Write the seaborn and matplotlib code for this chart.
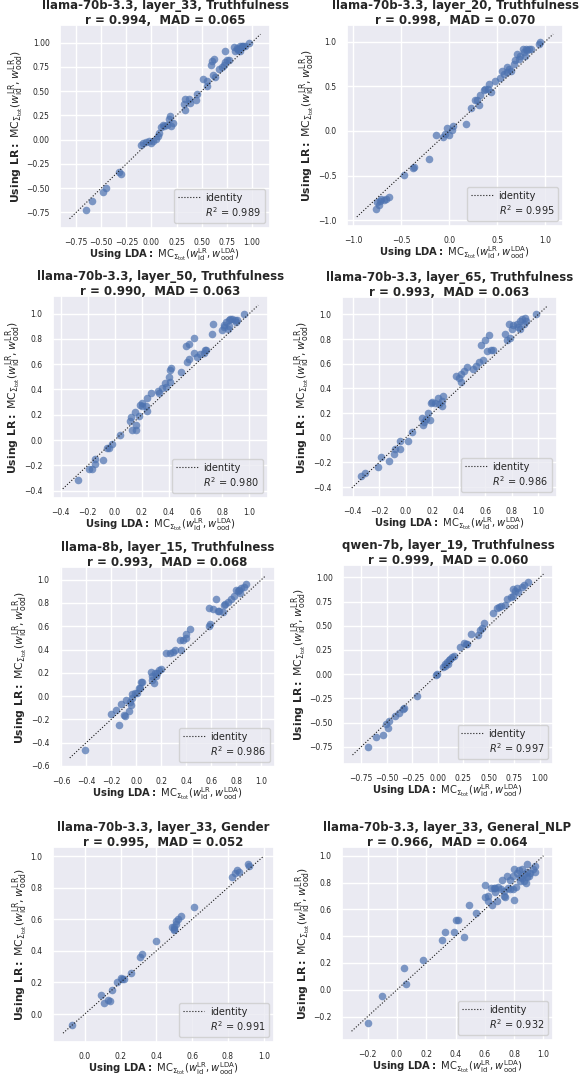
import matplotlib
matplotlib.use("Agg")
import matplotlib.pyplot as plt
import seaborn as sns

titles = [
    "llama-70b-3.3, layer_33, Truthfulness",
    "llama-70b-3.3, layer_20, Truthfulness",
    "llama-70b-3.3, layer_50, Truthfulness",
    "llama-70b-3.3, layer_65, Truthfulness",
    "llama-8b, layer_15, Truthfulness",
    "qwen-7b, layer_19, Truthfulness",
    "llama-70b-3.3, layer_33, Gender",
    "llama-70b-3.3, layer_33, General_NLP",
]
r_vals = [0.994, 0.998, 0.990, 0.993, 0.993, 0.999, 0.995, 0.966]
mad_vals = [0.065, 0.070, 0.063, 0.063, 0.068, 0.060, 0.052, 0.064]
r2_vals = [0.989, 0.995, 0.980, 0.986, 0.986, 0.997, 0.991, 0.932]

# LDA (x) vs LR (y) cosine values
lda_1 = [-0.65, -0.59, -0.48, -0.45, -0.32, -0.30, -0.10, -0.08, -0.05, -0.02, 0.00, 0.02, 0.05, 0.07,
         0.08, 0.10, 0.12, 0.13, 0.15, 0.17, 0.18, 0.19, 0.21, 0.32, 0.33, 0.33, 0.37, 0.38, 0.44, 0.45,
         0.51, 0.55, 0.55, 0.59, 0.60, 0.62, 0.61, 0.63, 0.67, 0.70, 0.72, 0.73, 0.75, 0.77, 0.73, 0.83,
         0.85, 0.86, 0.88, 0.90, 0.91, 0.93, 0.97, 0.86, 0.82, 0.90, 0.88]
lr_1 = [-0.73, -0.63, -0.54, -0.50, -0.33, -0.35, -0.06, -0.04, -0.02, -0.01, -0.03, -0.01, 0.01, 0.04,
        0.07, 0.13, 0.15, 0.14, 0.15, 0.21, 0.24, 0.14, 0.17, 0.37, 0.42, 0.30, 0.42, 0.38, 0.41, 0.47,
        0.62, 0.60, 0.55, 0.77, 0.81, 0.83, 0.67, 0.65, 0.73, 0.75, 0.77, 0.80, 0.82, 0.82, 0.91, 0.91,
        0.94, 0.93, 0.96, 0.95, 0.97, 0.96, 1.00, 0.92, 0.95, 0.97, 0.91]

lda_2 = [-0.76, -0.75, -0.73, -0.71, -0.68, -0.66, -0.63, -0.72, -0.47, -0.38, -0.37, -0.21, -0.14, -0.07,
         -0.04, -0.02, 0.00, 0.03, 0.04, 0.17, 0.23, 0.27, 0.29, 0.31, 0.32, 0.36, 0.37, 0.40, 0.41, 0.43,
         0.48, 0.53, 0.55, 0.57, 0.60, 0.62, 0.64, 0.67, 0.68, 0.71, 0.73, 0.74, 0.77, 0.78, 0.80, 0.81,
         0.83, 0.85, 0.79, 0.95, 0.94, 0.60]
lr_2 = [-0.87, -0.80, -0.83, -0.76, -0.77, -0.76, -0.74, -0.79, -0.49, -0.42, -0.41, -0.31, -0.05, -0.07,
        -0.04, 0.03, -0.05, 0.01, 0.06, 0.08, 0.26, 0.35, 0.35, 0.29, 0.40, 0.46, 0.47, 0.47, 0.53, 0.43,
        0.56, 0.59, 0.67, 0.64, 0.66, 0.69, 0.67, 0.75, 0.79, 0.86, 0.80, 0.84, 0.92, 0.88, 0.92, 0.90,
        0.92, 0.92, 0.84, 0.99, 0.97, 0.71]

lda_3 = [-0.27, -0.19, -0.17, -0.15, -0.15, -0.09, -0.06, -0.04, -0.02, 0.04, 0.11, 0.12, 0.13, 0.15,
         0.16, 0.16, 0.18, 0.19, 0.20, 0.20, 0.23, 0.24, 0.24, 0.27, 0.32, 0.33, 0.35, 0.37, 0.38, 0.40,
         0.41, 0.42, 0.41, 0.49, 0.53, 0.55, 0.54, 0.55, 0.59, 0.59, 0.61, 0.63, 0.66, 0.67, 0.68, 0.73,
         0.72, 0.80, 0.81, 0.83, 0.84, 0.85, 0.86, 0.87, 0.89, 0.90, 0.91, 0.85, 0.96, 0.81]
lr_3 = [-0.32, -0.23, -0.23, -0.19, -0.15, -0.16, -0.06, -0.06, -0.03, 0.04, 0.15, 0.18, 0.08, 0.22,
        0.08, 0.12, 0.19, 0.28, 0.27, 0.29, 0.27, 0.23, 0.33, 0.37, 0.39, 0.37, 0.41, 0.45, 0.42, 0.50,
        0.55, 0.57, 0.46, 0.54, 0.74, 0.76, 0.62, 0.64, 0.81, 0.69, 0.66, 0.68, 0.69, 0.71, 0.71, 0.92,
        0.84, 0.87, 0.91, 0.93, 0.88, 0.95, 0.96, 0.96, 0.95, 0.93, 0.95, 0.90, 1.00, 0.89]

lda_4 = [-0.34, -0.31, -0.21, -0.19, -0.13, -0.09, -0.08, -0.04, -0.04, 0.02, 0.05, 0.12, 0.13, 0.14,
         0.15, 0.18, 0.17, 0.19, 0.20, 0.22, 0.24, 0.25, 0.27, 0.28, 0.27, 0.38, 0.40, 0.42, 0.42, 0.44,
         0.46, 0.51, 0.53, 0.55, 0.58, 0.57, 0.60, 0.63, 0.61, 0.64, 0.66, 0.75, 0.76, 0.78, 0.79, 0.80,
         0.81, 0.84, 0.85, 0.86, 0.88, 0.90, 0.91, 0.86, 0.98, 0.89]
lr_4 = [-0.31, -0.29, -0.24, -0.16, -0.19, -0.13, -0.09, -0.09, -0.03, -0.03, 0.05, 0.16, 0.10, 0.13,
        0.15, 0.14, 0.20, 0.28, 0.29, 0.28, 0.32, 0.27, 0.30, 0.34, 0.26, 0.50, 0.48, 0.45, 0.52, 0.54,
        0.57, 0.56, 0.58, 0.61, 0.63, 0.75, 0.79, 0.83, 0.70, 0.71, 0.71, 0.84, 0.79, 0.92, 0.81, 0.88,
        0.91, 0.92, 0.90, 0.95, 0.96, 0.97, 0.95, 0.88, 1.00, 0.92]

lda_5 = [-0.41, -0.20, -0.16, -0.14, -0.12, -0.10, -0.09, -0.08, -0.06, -0.05, -0.04, -0.03, -0.03, -0.01,
         0.01, 0.02, 0.04, 0.05, 0.03, 0.12, 0.13, 0.14, 0.16, 0.17, 0.18, 0.20, 0.13, 0.15, 0.24, 0.27,
         0.29, 0.31, 0.35, 0.36, 0.37, 0.40, 0.40, 0.43, 0.58, 0.59, 0.58, 0.61, 0.64, 0.65, 0.66, 0.69,
         0.70, 0.71, 0.73, 0.76, 0.78, 0.80, 0.82, 0.84, 0.86, 0.88, 0.83, 0.81]
lr_5 = [-0.46, -0.15, -0.12, -0.25, -0.07, -0.16, -0.17, -0.03, -0.13, -0.05, -0.08, 0.02, -0.02, 0.03,
        0.03, 0.07, 0.12, 0.12, 0.07, 0.21, 0.14, 0.11, 0.17, 0.20, 0.22, 0.23, 0.17, 0.20, 0.37, 0.37,
        0.38, 0.40, 0.48, 0.40, 0.48, 0.53, 0.50, 0.58, 0.76, 0.62, 0.60, 0.75, 0.83, 0.73, 0.73, 0.72,
        0.78, 0.79, 0.81, 0.83, 0.86, 0.91, 0.91, 0.93, 0.94, 0.96, 0.89, 0.90]

lda_6 = [-0.68, -0.61, -0.54, -0.51, -0.49, -0.48, -0.42, -0.38, -0.34, -0.33, -0.20, -0.02, -0.01, 0.05,
         0.07, 0.07, 0.09, 0.11, 0.12, 0.14, 0.16, 0.10, 0.22, 0.26, 0.28, 0.29, 0.33, 0.39, 0.41, 0.43,
         0.45, 0.54, 0.58, 0.60, 0.62, 0.66, 0.68, 0.72, 0.74, 0.76, 0.78, 0.79, 0.82, 0.84, 0.88, 0.74]
lr_6 = [-0.75, -0.65, -0.63, -0.52, -0.56, -0.48, -0.43, -0.40, -0.36, -0.35, -0.23, -0.01, 0.00, 0.07,
        0.08, 0.11, 0.13, 0.15, 0.16, 0.18, 0.19, 0.11, 0.28, 0.32, 0.31, 0.31, 0.42, 0.41, 0.46, 0.48,
        0.53, 0.63, 0.68, 0.69, 0.70, 0.72, 0.78, 0.80, 0.88, 0.86, 0.89, 0.85, 0.90, 0.92, 0.95, 0.81]

lda_7 = [-0.07, 0.09, 0.11, 0.13, 0.14, 0.15, 0.18, 0.20, 0.21, 0.22, 0.26, 0.31, 0.32, 0.40, 0.50,
         0.50, 0.50, 0.51, 0.51, 0.52, 0.54, 0.49, 0.61, 0.82, 0.84, 0.85, 0.86, 0.91, 0.92]
lr_7 = [-0.07, 0.12, 0.07, 0.09, 0.08, 0.15, 0.20, 0.23, 0.22, 0.22, 0.26, 0.36, 0.38, 0.46, 0.54,
        0.55, 0.53, 0.57, 0.59, 0.60, 0.62, 0.55, 0.68, 0.87, 0.89, 0.91, 0.90, 0.95, 0.94]

lda_8 = [-0.20, -0.10, 0.05, 0.06, 0.18, 0.31, 0.33, 0.39, 0.40, 0.42, 0.46, 0.49, 0.54, 0.60, 0.60,
         0.62, 0.62, 0.64, 0.65, 0.66, 0.67, 0.67, 0.68, 0.69, 0.71, 0.72, 0.73, 0.73, 0.74, 0.75, 0.77,
         0.77, 0.79, 0.80, 0.80, 0.81, 0.82, 0.83, 0.84, 0.85, 0.85, 0.87, 0.87, 0.88, 0.89, 0.89, 0.90,
         0.89, 0.91, 0.93, 0.94, 0.94, 0.79, 0.84, 0.76]
lr_8 = [-0.25, -0.05, 0.16, 0.04, 0.22, 0.37, 0.43, 0.43, 0.52, 0.52, 0.39, 0.63, 0.57, 0.78, 0.69,
        0.70, 0.66, 0.76, 0.63, 0.76, 0.73, 0.76, 0.66, 0.77, 0.75, 0.82, 0.74, 0.70, 0.69, 0.85, 0.75,
        0.82, 0.85, 0.90, 0.67, 0.77, 0.87, 0.89, 0.81, 0.90, 0.83, 0.86, 0.81, 0.80, 0.84, 0.88, 0.85,
        0.94, 0.87, 0.90, 0.92, 0.88, 0.75, 0.84, 0.76]

lda_all = [lda_1, lda_2, lda_3, lda_4, lda_5, lda_6, lda_7, lda_8]
lr_all = [lr_1, lr_2, lr_3, lr_4, lr_5, lr_6, lr_7, lr_8]

# axes boxes in pixels: left, right, top, bottom
boxes = [(60, 270, 25, 228), (347, 563, 25, 226),
         (53, 268, 296, 498), (342, 557, 297, 497),
         (60, 275, 567, 767), (343, 553, 565, 764),
         (53, 274, 847, 1042), (342, 553, 847, 1040)]

sns.set_theme(style="darkgrid")
W, H = 585, 1077
fig = plt.figure(figsize=(W / 100, H / 100), dpi=100)

xlab = r"$\mathbf{Using\ LDA:}\ \mathrm{MC}_{\Sigma_{\mathrm{tot}}}(w_{\mathrm{id}}^{\mathrm{LR}}, w_{\mathrm{ood}}^{\mathrm{LDA}})$"
ylab = r"$\mathbf{Using\ LR:}\ \mathrm{MC}_{\Sigma_{\mathrm{tot}}}(w_{\mathrm{id}}^{\mathrm{LR}}, w_{\mathrm{ood}}^{\mathrm{LR}})$"

for i in range(8):
    l, r, t, b = boxes[i]
    ax = fig.add_axes([l / W, 1 - b / H, (r - l) / W, (b - t) / H])
    x, y = lda_all[i], lr_all[i]
    sns.scatterplot(x=x, y=y, ax=ax, s=30, alpha=0.7, color="#4c72b0", linewidth=0)
    lo, hi = min(min(x), min(y)), max(max(x), max(y))
    pad = 0.05 * (hi - lo)
    ax.plot([lo - pad, hi + pad], [lo - pad, hi + pad], "k:", lw=0.8, label="identity")
    ax.plot([], [], " ", label=f"$R^2$ = {r2_vals[i]:.3f}")
    ax.legend(loc="lower right", fontsize=7, handlelength=2.2, borderpad=0.4,
              labelspacing=0.3, handletextpad=0.6)
    ax.set_title(f"{titles[i]}\nr = {r_vals[i]:.3f},  MAD = {mad_vals[i]:.3f}",
                 fontsize=8.5, fontweight="bold", pad=1, linespacing=1.15)
    ax.set_xlabel(xlab, fontsize=7.2, labelpad=-1)
    ax.set_ylabel(ylab, fontsize=7.8, labelpad=0.5)
    ax.tick_params(labelsize=5.5, pad=1.5)

fig.savefig("out.png", dpi=100)
